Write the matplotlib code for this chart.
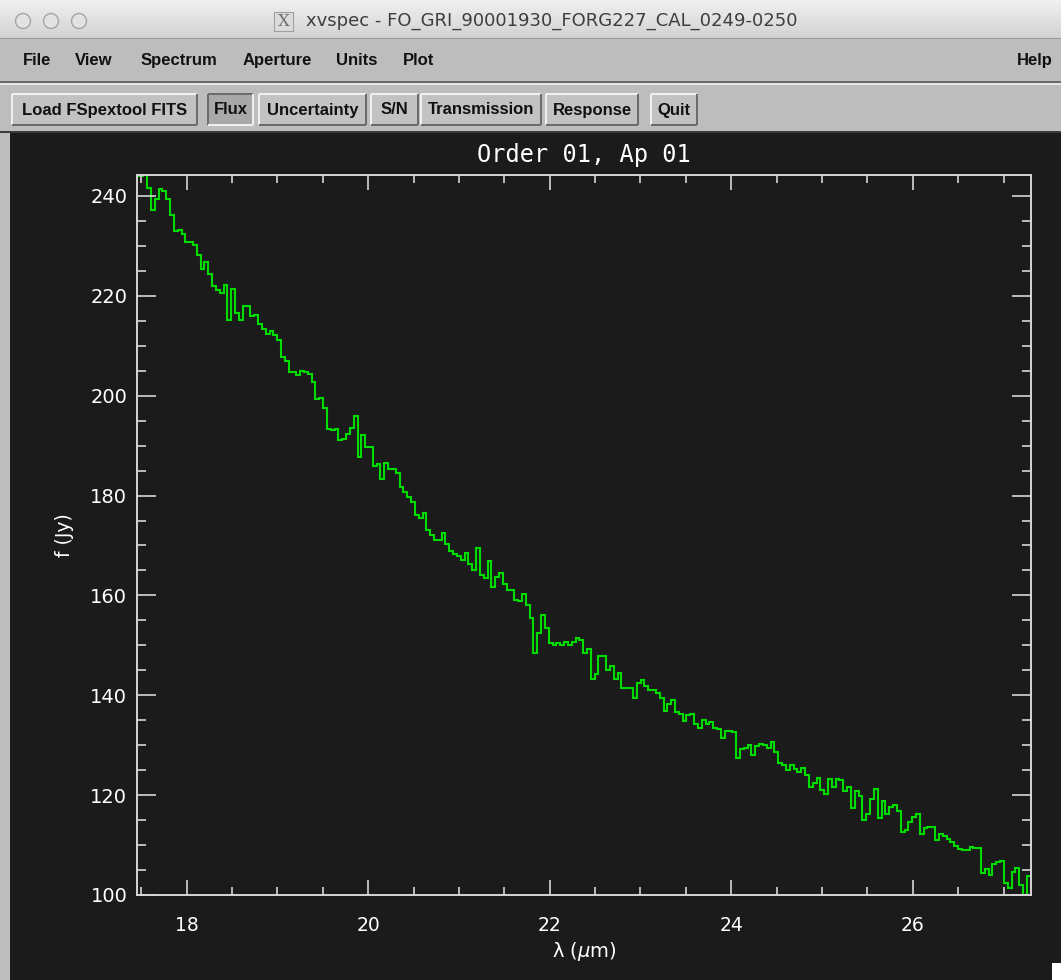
import numpy as np
import matplotlib
matplotlib.use("Agg")
import matplotlib.pyplot as plt
from matplotlib.patches import Rectangle, Circle
from matplotlib.colors import LinearSegmentedColormap
from matplotlib.ticker import MultipleLocator

# ---------------- data ----------------
window_title = "xvspec - FO_GRI_90001930_FORG227_CAL_0249-0250"
menu_items = ["File", "View", "Spectrum", "Aperture", "Units", "Plot"]
help_item = "Help"
button_labels = ["Load FSpextool FITS", "Flux", "Uncertainty", "S/N",
                 "Transmission", "Response", "Quit"]
plot_title = "Order 01, Ap 01"
x_label = "λ ($\\mu$m)"
y_label = "f (Jy)"

wl_start = 17.437     # left edge of first pixel (micron)
wl_step = 0.04215     # pixel width (micron)

flux_jy = [
    244.0, 244.0, 244.6, 241.5, 237.1, 239.4, 241.4, 240.9, 239.4, 236.1,
    232.9, 233.2, 232.4, 230.7, 230.7, 230.1, 228.1, 225.3, 226.7, 224.4,
    221.9, 221.1, 220.5, 222.2, 215.1, 221.3, 216.5, 215.1, 217.9, 217.9,
    216.0, 216.2, 214.3, 213.4, 212.3, 212.9, 212.1, 211.1,
    207.8, 207.0, 204.7, 204.7, 204.1, 205.0, 204.7, 204.3, 202.7, 199.3,
    199.6, 197.6, 193.3, 193.1, 193.3, 191.1, 191.4, 192.3, 193.6, 196.0,
    187.7, 192.2, 189.7, 189.7, 186.0, 186.3, 183.4, 186.6, 185.4, 185.4,
    184.6, 181.8,
    180.7, 179.8, 178.7, 176.1, 175.6, 176.5, 173.1,
    172.1, 171.1, 171.1, 172.5, 170.2, 168.8, 168.2, 167.9, 167.1, 168.5,
    166.3, 165.1, 169.4, 164.0, 163.4, 166.8, 161.7, 163.7, 164.5, 162.3,
    161.1, 161.1, 159.1, 158.9, 160.3, 158.1, 155.5, 148.5, 152.4, 156.1,
    153.5, 150.5, 150.1, 150.5, 150.1, 150.7, 150.1, 150.7, 151.5, 151.0,
    148.5, 149.3,
    143.3, 144.2, 147.9, 147.9, 145.1, 145.9, 143.3, 144.5, 141.4, 141.4,
    141.4, 139.4, 142.5, 143.1, 141.9, 141.1, 141.1, 140.5, 139.4, 136.9,
    138.3, 139.1, 136.6, 136.3, 134.9, 136.0, 136.3, 134.3, 133.5, 135.1,
    134.3, 134.6, 133.5, 133.2, 131.5, 132.9, 132.9, 132.6,
    127.5, 129.2, 129.5, 130.1, 128.1, 129.8, 130.3, 130.1, 129.5, 130.6,
    128.7, 126.4, 126.1, 125.0, 126.1, 125.3, 124.7, 125.5, 124.1, 121.6,
    122.5, 123.5, 121.1, 120.2, 123.3, 121.6, 123.3, 123.0, 120.8, 121.6,
    117.4, 120.8, 119.9, 115.1, 116.3, 119.3, 121.3, 115.4, 118.8, 116.3,
    117.7, 118.0, 116.8, 112.7, 113.1, 114.6, 115.7, 116.3, 112.3, 113.5,
    113.7, 113.7, 111.0, 112.3, 111.9, 111.2, 110.7, 109.9, 109.3, 109.0,
    109.0, 109.7, 109.4, 109.4, 104.4, 105.2, 104.1, 106.3, 106.7, 106.9,
    102.4, 101.5, 104.7, 105.5, 102.1, 100.1, 103.8,
]

x_limits = (17.452, 27.303)
y_limits = (100.0, 244.2)

# ---------------- layout (pixels) ----------------
W, H = 1061, 980
menu_x = [37, 94, 179, 277, 357, 419]
help_x = 1035
button_spans = [(12, 197), (208, 253), (259, 366), (371, 418),
                (421, 541), (546, 638), (651, 697)]
pressed = "Flux"

fig = plt.figure(figsize=(W / 100, H / 100), dpi=100, facecolor="#bdbdbd")

bg = fig.add_axes([0, 0, 1, 1], zorder=0)
bg.axis("off")

# title bar gradient
grad = np.linspace(0, 1, 64).reshape(-1, 1)
cm = LinearSegmentedColormap.from_list("tb", ["#f0f0f0", "#d3d3d3"])
bg.imshow(grad, extent=(0, W, 38, 0), cmap=cm, aspect="auto", zorder=0)
bg.plot([0, W], [38.5, 38.5], color="#9a9a9a", lw=0.8, zorder=1)

# traffic-light circles
for cx in [23, 51, 79]:
    bg.add_patch(Circle((cx, 21), 7.5, fc="#e2e2e2", ec="#a4a4a4", lw=1.0, zorder=2))

# X icon + title
bg.add_patch(Rectangle((274, 12), 19, 19, fc="#dcdcdc", ec="#a0a0a0", lw=0.8, zorder=2))
bg.text(283.5, 22, "X", ha="center", va="center", fontsize=12,
        family="DejaVu Serif", color="#707070", zorder=3)
bg.text(306, 21, window_title, ha="left", va="center", fontsize=13,
        family="DejaVu Sans", color="#3e3e3e", zorder=3)

# menu bar
bg.add_patch(Rectangle((0, 39), W, 43, fc="#bdbdbd", ec="none", zorder=1))
for lab, mx in zip(menu_items, menu_x):
    bg.text(mx, 65, lab, ha="center", va="baseline", fontsize=12,
            family="Liberation Sans", weight="bold", color="#111111", zorder=3)
bg.text(help_x, 65, help_item, ha="center", va="baseline", fontsize=12,
        family="Liberation Sans", weight="bold", color="#111111", zorder=3)
bg.add_patch(Rectangle((0, 81), W, 2.5, fc="#6a6a6a", ec="none", zorder=2))
bg.add_patch(Rectangle((0, 83.5), W, 1.2, fc="#e6e6e6", ec="none", zorder=2))

# button bar
bg.add_patch(Rectangle((0, 84.7), W, 48, fc="#bdbdbd", ec="none", zorder=1))
by0, by1 = 94, 125
for lab, (x0, x1) in zip(button_labels, button_spans):
    is_p = (lab == pressed)
    bg.add_patch(Rectangle((x0, by0), x1 - x0, by1 - by0,
                           fc="#a8a8a8" if is_p else "#c2c2c2", ec="none", zorder=2))
    light, dark = ("#6a6a6a", "#f2f2f2") if is_p else ("#f2f2f2", "#6a6a6a")
    bg.plot([x0, x1], [by0, by0], color=light, lw=1.4, zorder=3, solid_capstyle="butt")
    bg.plot([x0, x0], [by0, by1], color=light, lw=1.4, zorder=3, solid_capstyle="butt")
    bg.plot([x0, x1], [by1, by1], color=dark, lw=1.4, zorder=3, solid_capstyle="butt")
    bg.plot([x1, x1], [by0, by1], color=dark, lw=1.4, zorder=3, solid_capstyle="butt")
    bg.text((x0 + x1) / 2, 114.5, lab, ha="center", va="baseline",
            fontsize=12, family="Liberation Sans", weight="bold",
            color="#111111", zorder=4)

# dark drawing area
bg.add_patch(Rectangle((10, 133), W - 10, H - 133, fc="#1b1b1b", ec="none", zorder=1))
bg.add_patch(Rectangle((0, 131.5), W, 2, fc="#3a3a3a", ec="none", zorder=2))
bg.add_patch(Rectangle((1052, 963), 9, 17, fc="white", ec="none", zorder=2))

bg.set_xlim(0, W)
bg.set_ylim(H, 0)

# ---------------- plot axes ----------------
L, R, T, B = 137, 1031, 175, 895
ax = fig.add_axes([L / W, 1 - B / H, (R - L) / W, (B - T) / H], zorder=2)
ax.set_facecolor("#1b1b1b")

edges = wl_start + wl_step * np.arange(len(flux_jy) + 1)
ax.stairs(flux_jy, edges, baseline=None, color="#00dc00", lw=1.5)

ax.set_xlim(*x_limits)
ax.set_ylim(*y_limits)

ax.xaxis.set_major_locator(MultipleLocator(2))
ax.xaxis.set_minor_locator(MultipleLocator(0.5))
ax.yaxis.set_major_locator(MultipleLocator(20))
ax.yaxis.set_minor_locator(MultipleLocator(5))

axis_col = "#d6d6d6"
for sp in ax.spines.values():
    sp.set_color(axis_col)
    sp.set_linewidth(1.4)

ax.tick_params(which="both", direction="in", top=True, right=True,
               color=axis_col, labelcolor="white", width=1.2)
ax.tick_params(axis="x", which="major", length=10.8, pad=15, labelsize=13.5)
ax.tick_params(axis="x", which="minor", length=5.8)
ax.tick_params(axis="y", which="major", length=13.7, pad=7, labelsize=14)
ax.tick_params(axis="y", which="minor", length=6.5)

ax.set_title(plot_title, color="white", family="DejaVu Sans Mono",
             fontsize=17, pad=9)
ax.set_xlabel(x_label, color="white", fontsize=14, labelpad=4)
ax.set_ylabel(y_label, color="white", fontsize=13.5, labelpad=12)

fig.savefig("out.png", dpi=100, facecolor=fig.get_facecolor())
